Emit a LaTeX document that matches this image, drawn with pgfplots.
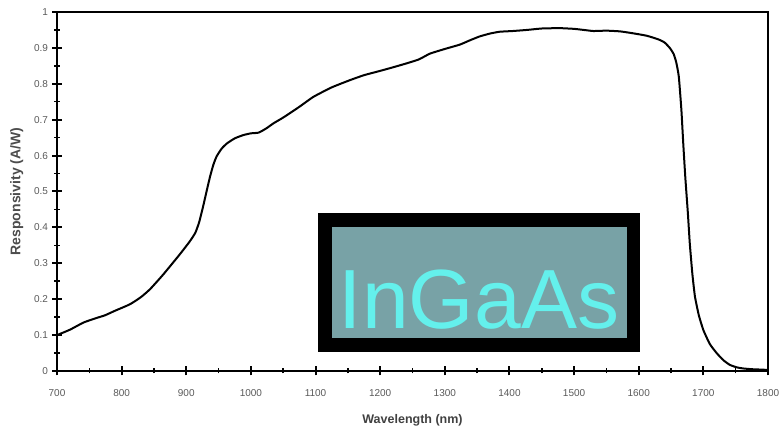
\documentclass[border=0pt]{standalone}
\usepackage{pgfplots}
\pgfplotsset{compat=1.18}
\usepackage{fontspec}
\setmainfont{Liberation Sans}
\definecolor{tealbg}{RGB}{120,162,166}
\definecolor{cyantext}{RGB}{100,240,236}
\begin{document}
\begin{tikzpicture}[x=1pt,y=1pt]
\path[use as bounding box] (-57,-56) rectangle (724,371);
\begin{axis}[
  at={(0,0)}, anchor=south west,
  scale only axis, width=711pt, height=359pt,
  xmin=700, xmax=1800, ymin=0, ymax=1,
  xtick={700,800,...,1800}, minor xtick={750,850,...,1750},
  ytick={0,0.1,...,1.0}, minor ytick={0.05,0.15,...,0.95},
  xtick pos=bottom, ytick pos=left,
  tick align=center,
  major tick length=9pt, minor tick length=5pt,
  major tick style={line width=2pt, black},
  minor tick style={line width=1.5pt, black},
  axis line style={line width=2.2pt},
  /pgf/number format/assume math mode=true,
  /pgf/number format/set thousands separator={},
  yticklabel style={font=\fontsize{10}{11}\selectfont, text=black!65, xshift=-1pt},
  xticklabel style={font=\fontsize{10}{11}\selectfont, text=black!65, yshift=-10pt},
  xlabel={\textbf{Wavelength (nm)}},
  ylabel={\textbf{Responsivity (A/W)}},
  xlabel style={font=\fontsize{12.5}{14}\selectfont, text=black!75, yshift=-11pt},
  ylabel style={font=\fontsize{14}{16}\selectfont, text=black!70},
  ylabel shift=4pt,
  yticklabel={\pgfmathprintnumber[fixed,precision=1]{\tick}},
]
\addplot[black, line width=2pt, smooth, tension=0.3] coordinates {
(700,0.100) (720,0.115) (741,0.135) (760,0.147) (774,0.155) (790,0.168)
(813,0.186) (830,0.206) (844,0.228) (864,0.268) (890,0.325) (905,0.360)
(914,0.385) (920,0.415) (926,0.458) (932,0.505) (937,0.543) (942,0.575)
(947,0.598) (955,0.620) (963,0.634) (975,0.648) (988,0.657) (1000,0.662)
(1012,0.664) (1024,0.676) (1035,0.690) (1050,0.706) (1075,0.736) (1097,0.764)
(1125,0.790) (1153,0.810) (1175,0.824) (1200,0.836) (1220,0.846) (1241,0.857)
(1260,0.868) (1277,0.884) (1300,0.897) (1323,0.909) (1340,0.922) (1354,0.932)
(1370,0.940) (1385,0.945) (1405,0.947) (1427,0.950) (1450,0.954) (1478,0.955)
(1500,0.953) (1515,0.950) (1530,0.947) (1550,0.948) (1571,0.946) (1590,0.941)
(1612,0.934) (1630,0.924) (1640,0.915) (1648,0.900) (1654,0.883) (1658,0.860)
(1662,0.820) (1666,0.727) (1669,0.630) (1672,0.541) (1676,0.440) (1679,0.355)
(1683,0.270) (1687,0.207) (1693,0.155) (1700,0.114) (1710,0.075) (1721,0.049)
(1731,0.030) (1741,0.017) (1752,0.010) (1762,0.007) (1775,0.005) (1788,0.004)
(1800,0.003)
};
\end{axis}
\fill[black] (261,19) rectangle (583,158);
\fill[tealbg] (275,32.7) rectangle (570,144.3);
\node[anchor=base, text=cyantext, font=\fontsize{84}{90}\selectfont, inner sep=0pt] at (422,42.7) {InGaAs};
\end{tikzpicture}
\end{document}
